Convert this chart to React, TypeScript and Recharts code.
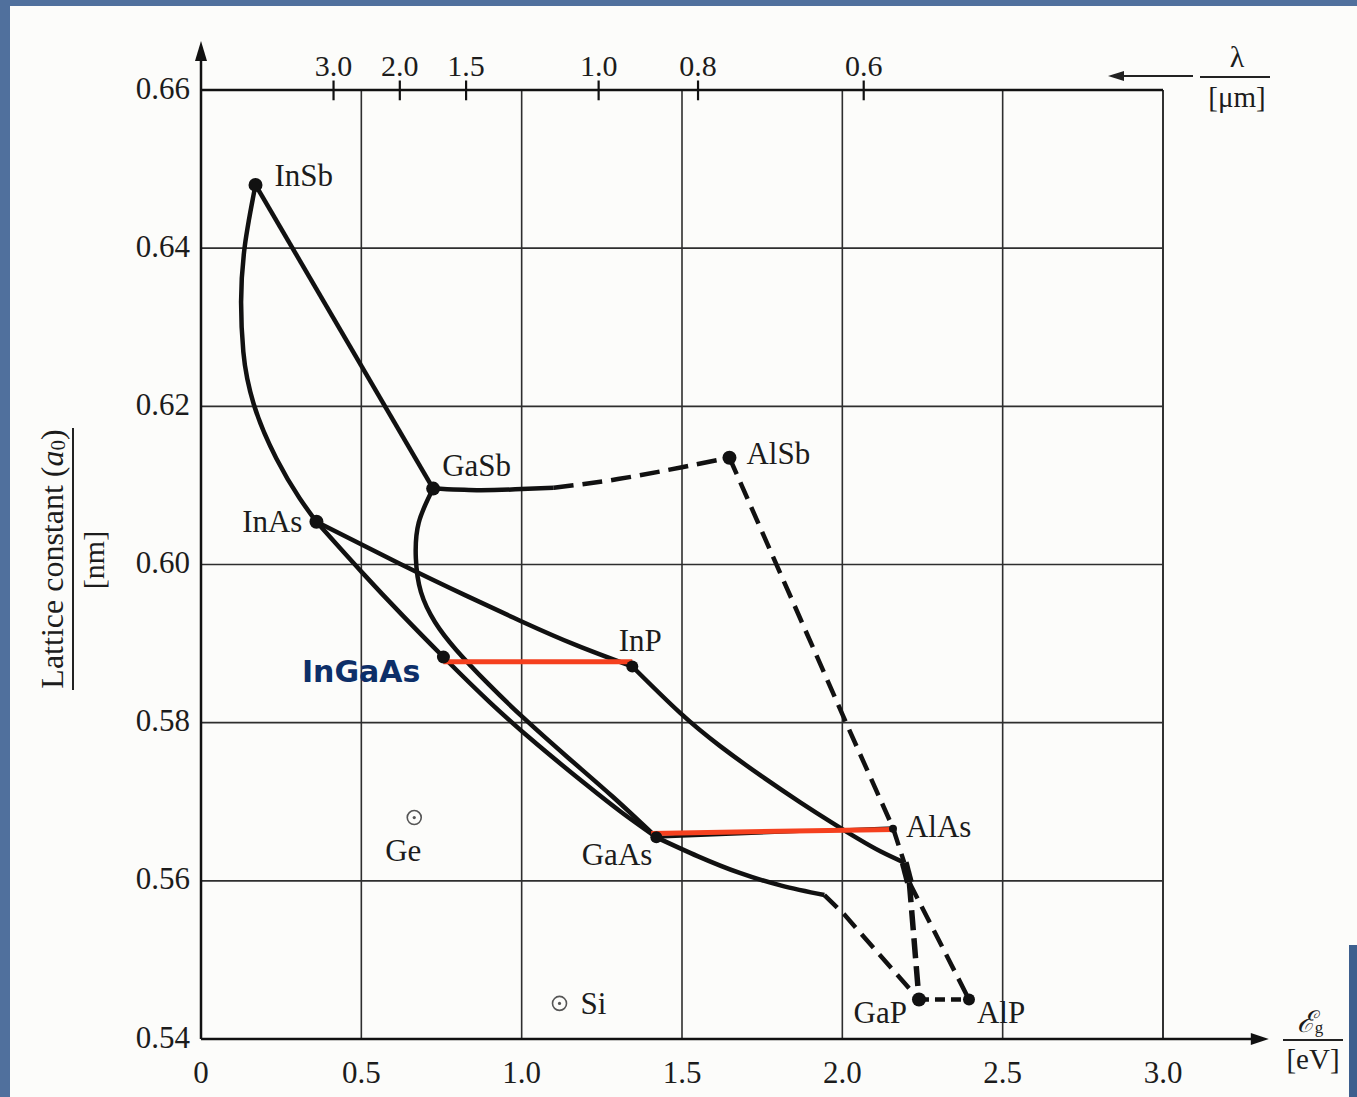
import React from 'react';
import {
  ComposedChart,
  Line,
  Scatter,
  XAxis,
  YAxis,
  CartesianGrid,
  ReferenceLine,
  ReferenceDot,
} from 'recharts';

type Pt = [number, number]; // [Eg in eV, lattice constant in nm]

// binary compounds (filled dots)
const compoundNames = ['InSb', 'InAs', 'GaSb', 'AlSb', 'InP', 'GaAs', 'AlAs', 'GaP', 'AlP'];
const compoundEg = [0.17, 0.36, 0.724, 1.648, 1.345, 1.42, 2.158, 2.239, 2.395];
const compoundA0 = [0.648, 0.6054, 0.6096, 0.6135, 0.5871, 0.5655, 0.5666, 0.545, 0.545];

// elemental semiconductors (open circles)
const elementNames = ['Ge', 'Si'];
const elementEg = [0.665, 1.118];
const elementA0 = [0.568, 0.5445];

// InGaAs lattice-matched point
const ingaasEg = [0.756];
const ingaasA0 = [0.5883];

// axis ticks
const egTicks = [0, 0.5, 1.0, 1.5, 2.0, 2.5, 3.0];
const a0Ticks = [0.54, 0.56, 0.58, 0.6, 0.62, 0.64, 0.66];
const lambdaTicks = [3.0, 2.0, 1.5, 1.0, 0.8, 0.6];

// alloy curves
const inSbInAs: Pt[] = [[0.17, 0.648], [0.15, 0.6437], [0.137, 0.6404], [0.125, 0.6332], [0.132, 0.6269], [0.165, 0.6202], [0.235, 0.6134], [0.307, 0.6084], [0.36, 0.6054]];
const inSbGaSb: Pt[] = [[0.17, 0.648], [0.724, 0.6096]];
const gaSbAlSbSolid: Pt[] = [[0.724, 0.6096], [0.86, 0.6094], [0.98, 0.6095], [1.1, 0.6097]];
const gaSbAlSbDash: Pt[] = [[1.1, 0.6097], [1.3, 0.6108], [1.5, 0.6123], [1.648, 0.6135]];
const alSbAlAs: Pt[] = [[1.648, 0.6135], [2.016, 0.5796], [2.158, 0.5667], [2.193, 0.5623]];
const inAsInP: Pt[] = [[0.36, 0.6054], [0.62, 0.6001], [0.83, 0.596], [1.0, 0.5928], [1.17, 0.5898], [1.345, 0.5871]];
const inAsGaAs: Pt[] = [[0.36, 0.6054], [0.5, 0.5991], [0.63, 0.5935], [0.756, 0.5883], [0.9, 0.5826], [1.05, 0.5772], [1.2, 0.5722], [1.31, 0.5687], [1.42, 0.5655]];
const gaSbGaAs: Pt[] = [[0.724, 0.6096], [0.679, 0.6053], [0.67, 0.6008], [0.686, 0.5965], [0.73, 0.5927], [0.796, 0.5892], [0.896, 0.5849], [1.006, 0.5806], [1.144, 0.5756], [1.285, 0.5706], [1.42, 0.5655]];
const inPAlAs: Pt[] = [[1.345, 0.5871], [1.495, 0.5812], [1.62, 0.577], [1.746, 0.5733], [1.87, 0.5699], [1.97, 0.5673], [2.05, 0.5653], [2.12, 0.5637], [2.193, 0.5623]];
const gaAsAlAs: Pt[] = [[1.42, 0.5655], [2.158, 0.5667]];
const gaAsGaPSolid: Pt[] = [[1.42, 0.5655], [1.55, 0.5631], [1.68, 0.561], [1.81, 0.5594], [1.944, 0.5582]];
const gaAsGaPDash: Pt[] = [[1.944, 0.5582], [2.007, 0.5557], [2.239, 0.545]];
const alAsKink: Pt[] = [[2.193, 0.5623], [2.209, 0.5598]];
const kinkGaP: Pt[] = [[2.209, 0.5598], [2.239, 0.545]];
const kinkAlP: Pt[] = [[2.209, 0.5598], [2.395, 0.545]];
const gaPAlP: Pt[] = [[2.239, 0.545], [2.395, 0.545]];

// red highlight lines
const redInGaAs: Pt[] = [[0.756, 0.5877], [1.345, 0.5877]];
const redGaAsAlAs: Pt[] = [[1.404, 0.566], [2.162, 0.5665]];

const toRows = (pts: Pt[]) => pts.map(([x, y]) => ({ x, y }));

const curves = [
  { id: 'insb-inas', pts: inSbInAs, type: 'monotoneY', w: 4.5 },
  { id: 'insb-gasb', pts: inSbGaSb, type: 'linear', w: 4.5 },
  { id: 'gasb-alsb', pts: gaSbAlSbSolid, type: 'natural', w: 4.5 },
  { id: 'gasb-alsb-d', pts: gaSbAlSbDash, type: 'natural', w: 4.5, dash: '20 9' },
  { id: 'alsb-alas', pts: alSbAlAs, type: 'linear', w: 4.5, dash: '18 9' },
  { id: 'inas-inp', pts: inAsInP, type: 'natural', w: 4.5 },
  { id: 'inas-gaas', pts: inAsGaAs, type: 'natural', w: 4.5 },
  { id: 'gasb-gaas', pts: gaSbGaAs, type: 'natural', w: 4.5 },
  { id: 'inp-alas', pts: inPAlAs, type: 'natural', w: 4.5 },
  { id: 'gaas-alas', pts: gaAsAlAs, type: 'linear', w: 3 },
  { id: 'gaas-gap', pts: gaAsGaPSolid, type: 'natural', w: 4.5 },
  { id: 'gaas-gap-d', pts: gaAsGaPDash, type: 'linear', w: 4.5, dash: '18 9' },
  { id: 'kink', pts: alAsKink, type: 'linear', w: 9 },
  { id: 'kink-gap', pts: kinkGaP, type: 'linear', w: 5.5, dash: '20 8' },
  { id: 'kink-alp', pts: kinkAlP, type: 'linear', w: 4.5, dash: '18 9' },
  { id: 'gap-alp', pts: gaPAlP, type: 'linear', w: 4.5, dash: '10 6' },
];

const redLines = [redInGaAs, redGaAsAlAs];

const compoundData = compoundNames.map((name, i) => ({ name, x: compoundEg[i], y: compoundA0[i] }));
const elementData = elementNames.map((name, i) => ({ name, x: elementEg[i], y: elementA0[i] }));
const ingaasData = ingaasEg.map((x, i) => ({ name: 'InGaAs', x, y: ingaasA0[i] }));

const SERIF = "'Liberation Serif', 'Times New Roman', serif";
const INK = '#1c1c1c';
const RED = '#f5401e';
const FS = 31;

const labelStyle: Record<string, { dx: number; dy: number; anchor: 'start' | 'middle' | 'end'; r: number }> = {
  InSb: { dx: 19, dy: -9, anchor: 'start', r: 7 },
  InAs: { dx: -14, dy: 0, anchor: 'end', r: 7 },
  GaSb: { dx: 9, dy: -23, anchor: 'start', r: 7 },
  AlSb: { dx: 17, dy: -4, anchor: 'start', r: 7 },
  InP: { dx: 8, dy: -26, anchor: 'middle', r: 6 },
  GaAs: { dx: -4, dy: 17, anchor: 'end', r: 6 },
  AlAs: { dx: 13, dy: -2, anchor: 'start', r: 4 },
  GaP: { dx: -12, dy: 13, anchor: 'end', r: 7 },
  AlP: { dx: 8, dy: 13, anchor: 'start', r: 6 },
  Ge: { dx: -11, dy: 33, anchor: 'middle', r: 7 },
  Si: { dx: 21, dy: 0, anchor: 'start', r: 7 },
};

const CompoundDot = (props: any) => {
  const { cx, cy, payload } = props;
  const s = labelStyle[payload.name];
  return (
    <g>
      <circle cx={cx} cy={cy} r={s.r} fill="#111" />
      <text x={cx + s.dx} y={cy + s.dy} textAnchor={s.anchor} dominantBaseline="central"
        fontFamily={SERIF} fontSize={FS} fill={INK}>{payload.name}</text>
    </g>
  );
};

const ElementDot = (props: any) => {
  const { cx, cy, payload } = props;
  const s = labelStyle[payload.name];
  return (
    <g>
      <circle cx={cx} cy={cy} r={s.r} fill="none" stroke="#555" strokeWidth={1.6} />
      <circle cx={cx} cy={cy} r={1.6} fill="#555" />
      <text x={cx + s.dx} y={cy + s.dy} textAnchor={s.anchor} dominantBaseline="central"
        fontFamily={SERIF} fontSize={FS} fill={INK}>{payload.name}</text>
    </g>
  );
};

const InGaAsDot = (props: any) => {
  const { cx, cy } = props;
  return (
    <g>
      <circle cx={cx} cy={cy} r={6.5} fill="#111" />
      <text x={cx - 23} y={cy + 14} textAnchor="end" dominantBaseline="central"
        fontFamily="'DejaVu Sans', Verdana, sans-serif" fontWeight="bold" fontSize={30} fill="#0d2f68">InGaAs</text>
    </g>
  );
};

const BottomTick = (props: any) => {
  const { x, y, payload } = props;
  const v = payload.value as number;
  return (
    <text x={x} y={y + 33} textAnchor="middle" dominantBaseline="central" fontFamily={SERIF} fontSize={FS} fill={INK}>
      {v === 0 ? '0' : v.toFixed(1)}
    </text>
  );
};

const TopTick = (props: any) => {
  const { x, y, payload } = props;
  return (
    <text x={x} y={y - 25} textAnchor="middle" dominantBaseline="central" fontFamily={SERIF} fontSize={30} fill={INK}>
      {(1.24 / payload.value).toFixed(1)}
    </text>
  );
};

const LeftTick = (props: any) => {
  const { x, y, payload } = props;
  return (
    <text x={x - 11} y={y - 2} textAnchor="end" dominantBaseline="central" fontFamily={SERIF} fontSize={FS} fill={INK}>
      {(payload.value as number).toFixed(2)}
    </text>
  );
};

const ArrowRight = (props: any) => {
  const { cx, cy } = props;
  return <polygon points={`${cx},${cy} ${cx - 18},${cy - 6} ${cx - 18},${cy + 6}`} fill="#111" />;
};

const ArrowUp = (props: any) => {
  const { cx, cy } = props;
  return <polygon points={`${cx},${cy} ${cx - 6},${cy + 20} ${cx + 6},${cy + 20}`} fill="#111" />;
};

export default function App() {
  return (
    <div style={{ position: 'absolute', left: 0, top: 0, width: 1357, height: 1097, background: '#50709d', overflow: 'hidden' }}>
      <div style={{ position: 'absolute', left: 10, top: 6, right: 0, bottom: 0, background: '#fcfcfa' }} />
      <div style={{ position: 'absolute', left: 1349, top: 945, right: 0, bottom: 0, background: '#3d5f8e' }} />
      <div style={{ position: 'absolute', left: 0, top: 0 }}>
        <ComposedChart width={1357} height={1097} margin={{ top: 50, right: 194, bottom: 18, left: 121 }}>
          <CartesianGrid stroke="#2e2e2e" strokeWidth={1.6} />
          <XAxis
            xAxisId={0}
            dataKey="x"
            type="number"
            domain={[0, 3]}
            ticks={egTicks}
            interval={0}
            allowDataOverflow
            height={40}
            tickSize={0}
            tickMargin={0}
            tickLine={false}
            axisLine={{ stroke: '#111', strokeWidth: 2.5 }}
            tick={BottomTick}
          />
          <XAxis
            xAxisId="top"
            orientation="top"
            dataKey="x"
            type="number"
            domain={[0, 3]}
            ticks={lambdaTicks.map((l) => 1.24 / l)}
            interval={0}
            allowDataOverflow
            height={40}
            tickSize={0}
            tickMargin={0}
            tickLine={false}
            axisLine={{ stroke: '#111', strokeWidth: 2.5 }}
            tick={TopTick}
          />
          <YAxis
            dataKey="y"
            type="number"
            domain={[0.54, 0.66]}
            ticks={a0Ticks}
            interval={0}
            allowDataOverflow
            width={80}
            tickSize={0}
            tickMargin={0}
            tickLine={false}
            axisLine={{ stroke: '#111', strokeWidth: 2.5 }}
            tick={LeftTick}
          />
          <ReferenceLine x={3} stroke="#2e2e2e" strokeWidth={1.8} />
          {/* axis extensions with arrows */}
          <ReferenceLine segment={[{ x: 3, y: 0.54 }, { x: 3.3, y: 0.54 }]} stroke="#111" strokeWidth={2.5} ifOverflow="visible" />
          <ReferenceDot x={3.33} y={0.54} ifOverflow="visible" shape={ArrowRight} />
          <ReferenceLine segment={[{ x: 0, y: 0.66 }, { x: 0, y: 0.6645 }]} stroke="#111" strokeWidth={2.5} ifOverflow="visible" />
          <ReferenceDot x={0} y={0.6662} ifOverflow="visible" shape={ArrowUp} />
          {/* wavelength tick crosses on the top axis */}
          {lambdaTicks.map((l) => (
            <ReferenceLine
              key={`lt-${l}`}
              segment={[{ x: 1.24 / l, y: 0.6612 }, { x: 1.24 / l, y: 0.6587 }]}
              stroke="#111"
              strokeWidth={2.2}
              ifOverflow="visible"
            />
          ))}
          {curves.map((c) => (
            <Line
              key={c.id}
              data={toRows(c.pts)}
              dataKey="y"
              type={c.type as any}
              stroke="#111"
              strokeWidth={c.w}
              strokeDasharray={c.dash}
              strokeLinecap="butt"
              dot={false}
              activeDot={false}
              isAnimationActive={false}
            />
          ))}
          {redLines.map((pts, i) => (
            <Line
              key={`red-${i}`}
              data={toRows(pts)}
              dataKey="y"
              type="linear"
              stroke={RED}
              strokeWidth={5}
              dot={false}
              activeDot={false}
              isAnimationActive={false}
            />
          ))}
          <Scatter data={compoundData} dataKey="y" shape={CompoundDot} isAnimationActive={false} />
          <Scatter data={elementData} dataKey="y" shape={ElementDot} isAnimationActive={false} />
          <Scatter data={ingaasData} dataKey="y" shape={InGaAsDot} isAnimationActive={false} />
        </ComposedChart>
      </div>
      <svg width={1357} height={1097} style={{ position: 'absolute', left: 0, top: 0, pointerEvents: 'none' }}>
        <g fontFamily={SERIF} fill={INK}>
          {/* y axis title */}
          <text transform="translate(52,559) rotate(-90)" textAnchor="middle" dominantBaseline="central" fontSize={32}>
            Lattice constant (<tspan fontStyle="italic">a</tspan>
            <tspan dy={6} fontSize={21}>0</tspan>
            <tspan dy={-6}>)</tspan>
          </text>
          <line x1={73} y1={428} x2={73} y2={690} stroke="#222" strokeWidth={2} />
          <text transform="translate(93,560) rotate(-90)" textAnchor="middle" dominantBaseline="central" fontSize={30}>[nm]</text>
          {/* wavelength title */}
          <line x1={1120} y1={76} x2={1193} y2={76} stroke="#222" strokeWidth={2} />
          <polygon points="1108,76 1124,71 1124,81" fill="#222" />
          <text x={1237} y={56} textAnchor="middle" dominantBaseline="central" fontSize={30}>λ</text>
          <line x1={1200} y1={77} x2={1270} y2={77} stroke="#222" strokeWidth={2} />
          <text x={1237} y={97} textAnchor="middle" dominantBaseline="central" fontSize={29}>[μm]</text>
          {/* energy gap title */}
          <text x={1310} y={1021} textAnchor="middle" dominantBaseline="central" fontSize={30}>
            <tspan fontStyle="italic">ℰ</tspan>
            <tspan dy={6} fontSize={17}>g</tspan>
          </text>
          <line x1={1283} y1={1040} x2={1343} y2={1040} stroke="#222" strokeWidth={2} />
          <text x={1313} y={1059} textAnchor="middle" dominantBaseline="central" fontSize={29}>[eV]</text>
        </g>
      </svg>
    </div>
  );
}
